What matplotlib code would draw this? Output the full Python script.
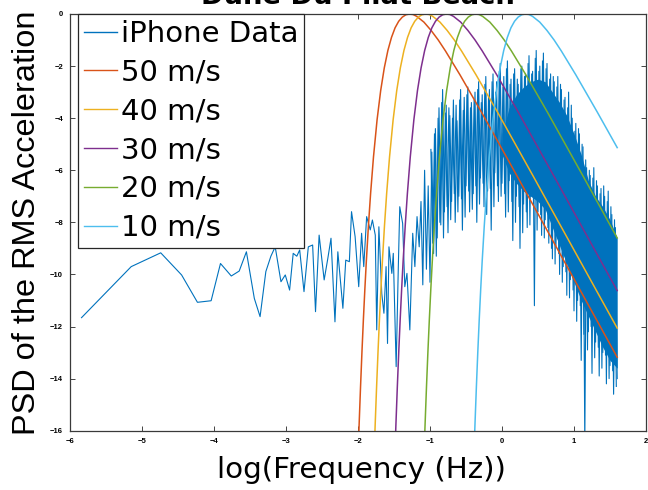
import matplotlib
matplotlib.use('Agg')
import matplotlib.pyplot as plt

plt.rcParams['font.family'] = ['DejaVu Sans']

# measured spectrum, low frequency part (log of frequency, log of PSD)
phone_x = [-5.84, -5.15, -4.74, -4.45, -4.23, -4.04, -3.91, -3.76, -3.65, -3.55,
           -3.44, -3.36, -3.28, -3.21, -3.15, -3.07, -3.01, -2.95, -2.90, -2.85,
           -2.81, -2.75, -2.69, -2.63, -2.59, -2.54, -2.47, -2.42, -2.375, -2.32,
           -2.28, -2.21, -2.17, -2.12, -2.09, -2.04, -1.99, -1.95, -1.92, -1.88,
           -1.83, -1.80, -1.76, -1.74, -1.71, -1.67, -1.64, -1.61, -1.59, -1.57,
           -1.53, -1.51, -1.47, -1.44, -1.42, -1.38, -1.35, -1.32, -1.28, -1.24,
           -1.21, -1.18, -1.15]
phone_y = [-11.66, -9.70, -9.17, -10.02, -11.07, -11.01, -9.58, -10.06, -9.87, -9.13,
           -10.92, -11.62, -9.89, -9.30, -8.94, -10.28, -10.02, -10.60, -9.19, -9.30,
           -9.06, -10.66, -8.94, -8.87, -11.43, -8.49, -10.21, -9.40, -8.61, -11.82,
           -9.13, -11.30, -9.45, -9.51, -7.59, -8.55, -10.47, -8.42, -9.70, -7.78,
           -8.29, -7.91, -8.49, -12.13, -8.17, -10.73, -11.49, -9.70, -12.65, -8.94,
           -9.96, -9.19, -13.54, -9.70, -7.40, -8.04, -10.47, -9.96, -12.13, -8.42,
           -9.70, -7.78, -8.94]

# measured spectrum, dense high frequency part
dense_x = [-1.125, -1.1, -1.075, -1.05, -1.025, -1.0, -0.975, -0.95, -0.925, -0.9,
           -0.875, -0.85, -0.825, -0.8, -0.775, -0.75, -0.725, -0.7, -0.675, -0.65,
           -0.625, -0.6, -0.575, -0.55, -0.525, -0.5, -0.475, -0.45, -0.425, -0.4,
           -0.375, -0.35, -0.325, -0.3, -0.275, -0.25, -0.225, -0.2, -0.175, -0.15,
           -0.125, -0.1, -0.075, -0.05, -0.025, 0.0, 0.025, 0.05, 0.075, 0.1,
           0.125, 0.15, 0.175, 0.2, 0.225, 0.25, 0.275, 0.3, 0.325, 0.35,
           0.375, 0.4, 0.425, 0.45, 0.475, 0.5, 0.525, 0.55, 0.575, 0.6,
           0.625, 0.65, 0.675, 0.7, 0.725, 0.75, 0.775, 0.8, 0.825, 0.85,
           0.875, 0.9, 0.925, 0.95, 0.975, 1.0, 1.025, 1.05, 1.075, 1.1,
           1.125, 1.15, 1.175, 1.2, 1.225, 1.25, 1.275, 1.3, 1.325, 1.35,
           1.375, 1.4, 1.425, 1.45, 1.475, 1.5, 1.525, 1.55, 1.575, 1.6]
dense_y = [-7.2, -10.4, -6.0, -9.8, -6.6, -10.3, -5.3, -9.2, -4.4, -8.6,
           -3.6, -8.1, -2.9, -7.6, -3.5, -8.4, -3.9, -7.2, -3.3, -8.0,
           -4.1, -7.0, -2.9, -8.3, -3.2, -6.6, -2.8, -7.6, -3.4, -6.9,
           -3.0, -8.0, -2.6, -6.3, -3.1, -7.4, -2.4, -6.8, -2.9, -8.3,
           -2.3, -6.1, -2.6, -7.2, -1.9, -6.5, -2.4, -7.8, -1.8, -6.4,
           -2.5, -8.7, -2.1, -7.0, -2.7, -9.0, -2.0, -7.3, -2.3, -8.2,
           -1.6, -7.0, -2.2, -11.2, -1.4, -7.6, -2.0, -8.5, -1.5, -7.9,
           -1.9, -8.8, -2.3, -9.4, -2.6, -8.9, -2.4, -10.0, -2.9, -9.7,
           -3.2, -10.8, -3.0, -10.2, -4.0, -11.4, -4.2, -11.0, -4.6, -13.3,
           -5.1, -16.5, -5.9, -12.2, -6.2, -13.8, -5.9, -12.6, -6.6, -13.9,
           -6.7, -13.0, -7.0, -14.2, -6.8, -13.5, -7.7, -14.6, -8.2, -14.0]

# bins lying between the ones above
mid_x = [-0.9875, -0.9625, -0.9375, -0.9125, -0.8875, -0.8625, -0.8375, -0.8125,
         -0.7875, -0.7625, -0.7375, -0.7125, -0.6875, -0.6625, -0.6375, -0.6125,
         -0.5875, -0.5625, -0.5375, -0.5125, -0.4875, -0.4625, -0.4375, -0.4125,
         -0.3875, -0.3625, -0.3375, -0.3125, -0.2875, -0.2625, -0.2375, -0.2125,
         -0.1875, -0.1625, -0.1375, -0.1125, -0.0875, -0.0625, -0.0375, -0.0125,
         0.0125, 0.0375, 0.0625, 0.0875, 0.1125, 0.1375, 0.1625, 0.1875,
         0.2125, 0.2375, 0.2625, 0.2875, 0.3125, 0.3375, 0.3625, 0.3875,
         0.4125, 0.4375, 0.4625, 0.4875, 0.5125, 0.5375, 0.5625, 0.5875,
         0.6125, 0.6375, 0.6625, 0.6875, 0.7125, 0.7375, 0.7625, 0.7875,
         0.8125, 0.8375, 0.8625, 0.8875, 0.9125, 0.9375, 0.9625, 0.9875,
         1.0125, 1.0375, 1.0625, 1.0875, 1.1125, 1.1375, 1.1625, 1.1875,
         1.2125, 1.2375, 1.2625, 1.2875, 1.3125, 1.3375, 1.3625, 1.3875,
         1.4125, 1.4375, 1.4625, 1.4875, 1.5125, 1.5375, 1.5625, 1.5875]
mid_y = [-5.2, -8.8, -4.6, -9.3, -4.0, -8.0, -3.4, -8.6,
         -3.8, -7.4, -3.6, -7.9, -4.0, -6.9, -3.5, -7.6,
         -3.3, -7.1, -3.7, -7.8, -3.1, -6.8, -3.6, -7.5,
         -3.3, -6.6, -2.9, -7.3, -3.4, -6.5, -2.7, -7.7,
         -3.2, -6.7, -2.6, -7.4, -3.0, -6.6, -2.2, -7.0,
         -2.8, -6.9, -2.1, -7.6, -2.7, -7.2, -2.3, -8.0,
         -2.5, -7.4, -2.1, -8.4, -2.4, -7.6, -1.9, -8.1,
         -2.3, -7.3, -1.7, -8.3, -2.2, -7.7, -1.8, -8.6,
         -2.1, -8.2, -2.5, -9.0, -2.4, -9.6, -2.8, -9.2,
         -2.7, -10.3, -3.3, -9.9, -3.6, -10.9, -3.5, -10.6,
         -4.5, -11.8, -4.4, -11.2, -5.0, -12.3, -5.6, -12.9,
         -6.0, -12.0, -6.3, -13.2, -6.4, -12.8, -6.9, -13.6,
         -6.6, -13.1, -7.2, -14.0, -7.4, -13.7, -7.9, -14.3]

# solid core of the dense band
core_x = [0.0, 0.1, 0.2, 0.3, 0.4, 0.5, 0.6, 0.7, 0.8, 0.9,
          1.0, 1.1, 1.2, 1.3, 1.4, 1.5, 1.6]
core_hi = [-4.6, -3.6, -3.1, -2.8, -2.6, -2.5, -2.6, -3.0, -3.4, -3.9,
           -4.6, -5.4, -6.4, -7.0, -7.4, -7.9, -8.6]
core_lo = [-5.4, -6.1, -6.5, -6.8, -7.0, -7.2, -7.5, -8.2, -8.9, -9.6,
           -10.3, -11.0, -11.6, -12.2, -12.8, -13.3, -13.6]

# model spectra for each wind speed
x50 = [-2.005, -1.985, -1.965, -1.945, -1.925, -1.905, -1.885, -1.855, -1.825, -1.785,
       -1.735, -1.685, -1.635, -1.585, -1.535, -1.485, -1.435, -1.385, -1.335, -1.285,
       -1.235, -1.185, -1.085, -0.985, -0.885, -0.785, -0.585, -0.285, 0.215, 0.715,
       1.215, 1.6]
y50 = [-17.41, -15.81, -14.33, -12.97, -11.72, -10.58, -9.53, -8.12, -6.89, -5.49,
       -4.06, -2.94, -2.07, -1.40, -0.90, -0.53, -0.28, -0.12, -0.03, 0.0,
       -0.02, -0.09, -0.31, -0.63, -1.00, -1.42, -2.33, -3.77, -6.25, -8.75,
       -11.25, -13.18]
x40 = [-1.782, -1.762, -1.742, -1.722, -1.702, -1.682, -1.662, -1.632, -1.602, -1.562,
       -1.512, -1.462, -1.412, -1.362, -1.312, -1.262, -1.212, -1.162, -1.112, -1.062,
       -1.012, -0.962, -0.862, -0.762, -0.662, -0.562, -0.362, -0.062, 0.438, 0.938,
       1.438, 1.6]
y40 = [-17.41, -15.81, -14.33, -12.97, -11.72, -10.58, -9.53, -8.12, -6.89, -5.49,
       -4.06, -2.94, -2.07, -1.40, -0.90, -0.53, -0.28, -0.12, -0.03, 0.0,
       -0.02, -0.09, -0.31, -0.63, -1.00, -1.42, -2.33, -3.77, -6.25, -8.75,
       -11.25, -12.06]
x30 = [-1.494, -1.474, -1.454, -1.434, -1.414, -1.394, -1.374, -1.344, -1.314, -1.274,
       -1.224, -1.174, -1.124, -1.074, -1.024, -0.974, -0.924, -0.874, -0.824, -0.774,
       -0.724, -0.674, -0.574, -0.474, -0.374, -0.274, -0.074, 0.226, 0.726, 1.226,
       1.6]
y30 = [-17.41, -15.81, -14.33, -12.97, -11.72, -10.58, -9.53, -8.12, -6.89, -5.49,
       -4.06, -2.94, -2.07, -1.40, -0.90, -0.53, -0.28, -0.12, -0.03, 0.0,
       -0.02, -0.09, -0.31, -0.63, -1.00, -1.42, -2.33, -3.77, -6.25, -8.75,
       -10.62]
x20 = [-1.089, -1.069, -1.049, -1.029, -1.009, -0.989, -0.969, -0.939, -0.909, -0.869,
       -0.819, -0.769, -0.719, -0.669, -0.619, -0.569, -0.519, -0.469, -0.419, -0.369,
       -0.319, -0.269, -0.169, -0.069, 0.031, 0.131, 0.331, 0.631, 1.131, 1.6]
y20 = [-17.41, -15.81, -14.33, -12.97, -11.72, -10.58, -9.53, -8.12, -6.89, -5.49,
       -4.06, -2.94, -2.07, -1.40, -0.90, -0.53, -0.28, -0.12, -0.03, 0.0,
       -0.02, -0.09, -0.31, -0.63, -1.00, -1.42, -2.33, -3.77, -6.25, -8.60]
x10 = [-0.396, -0.376, -0.356, -0.336, -0.316, -0.296, -0.276, -0.246, -0.216, -0.176,
       -0.126, -0.076, -0.026, 0.024, 0.074, 0.124, 0.174, 0.224, 0.274, 0.324,
       0.374, 0.424, 0.524, 0.624, 0.724, 0.824, 1.024, 1.324, 1.6]
y10 = [-17.41, -15.81, -14.33, -12.97, -11.72, -10.58, -9.53, -8.12, -6.89, -5.49,
       -4.06, -2.94, -2.07, -1.40, -0.90, -0.53, -0.28, -0.12, -0.03, 0.0,
       -0.02, -0.09, -0.31, -0.63, -1.00, -1.42, -2.33, -3.77, -5.13]

labels = ['iPhone Data', '50 m/s', '40 m/s', '30 m/s', '20 m/s', '10 m/s']
colors = ['#0072BD', '#D95319', '#EDB120', '#7E2F8E', '#77AC30', '#4DBEEE']

fig = plt.figure(figsize=(6.48, 4.90), dpi=100)
ax = fig.add_axes([70/648, 1 - 430.7/490, 576/648, 416.7/490])

ax.fill_between(core_x, core_lo, core_hi, color=colors[0], lw=0)
ax.plot(mid_x, mid_y, color=colors[0], lw=0.8)
ax.plot(phone_x + dense_x, phone_y + dense_y, color=colors[0], lw=0.8, label=labels[0])
for xs, ys, lab, col in zip([x50, x40, x30, x20, x10], [y50, y40, y30, y20, y10],
                            labels[1:], colors[1:]):
    ax.plot(xs, ys, color=col, lw=1.1, label=lab)

ax.set_xlim(-6, 2)
ax.set_ylim(-16, 0)
ax.set_xticks(range(-6, 3))
ax.set_yticks(range(-16, 1, 2))
ax.tick_params(direction='in', top=True, right=True, length=3.8, width=0.6,
               labelsize=5.5, color='#262626', pad=5)
for t in ax.get_xticklabels() + ax.get_yticklabels():
    t.set_family('Liberation Sans')
    t.set_fontweight('bold')
for s in ax.spines.values():
    s.set_color('#3a3a3a')
    s.set_linewidth(0.9)

leg = ax.legend(loc='upper left', bbox_to_anchor=(8/576, 1.0), borderaxespad=0,
                fontsize=21, handlelength=1.13, handletextpad=0.14, borderpad=0.2,
                labelspacing=0.37, fancybox=False, framealpha=1)
leg.get_frame().set_edgecolor('#262626')
leg.get_frame().set_linewidth(0.9)
for ln in leg.get_lines():
    ln.set_linewidth(1.0)

fig.text(358/648, 1 - 4.5/490, 'Dune Du Pilat Beach', ha='center', va='baseline',
         fontsize=19.7, fontweight='bold')
fig.text(27/648, 1 - 222.5/490, 'PSD of the RMS Acceleration', rotation=90,
         ha='center', va='center', fontsize=23.4, family='Liberation Sans')
fig.text(361/648, 1 - 470/490, 'log(Frequency (Hz))', ha='center', va='center',
         fontsize=21.2)

fig.savefig('out.png', dpi=100)
